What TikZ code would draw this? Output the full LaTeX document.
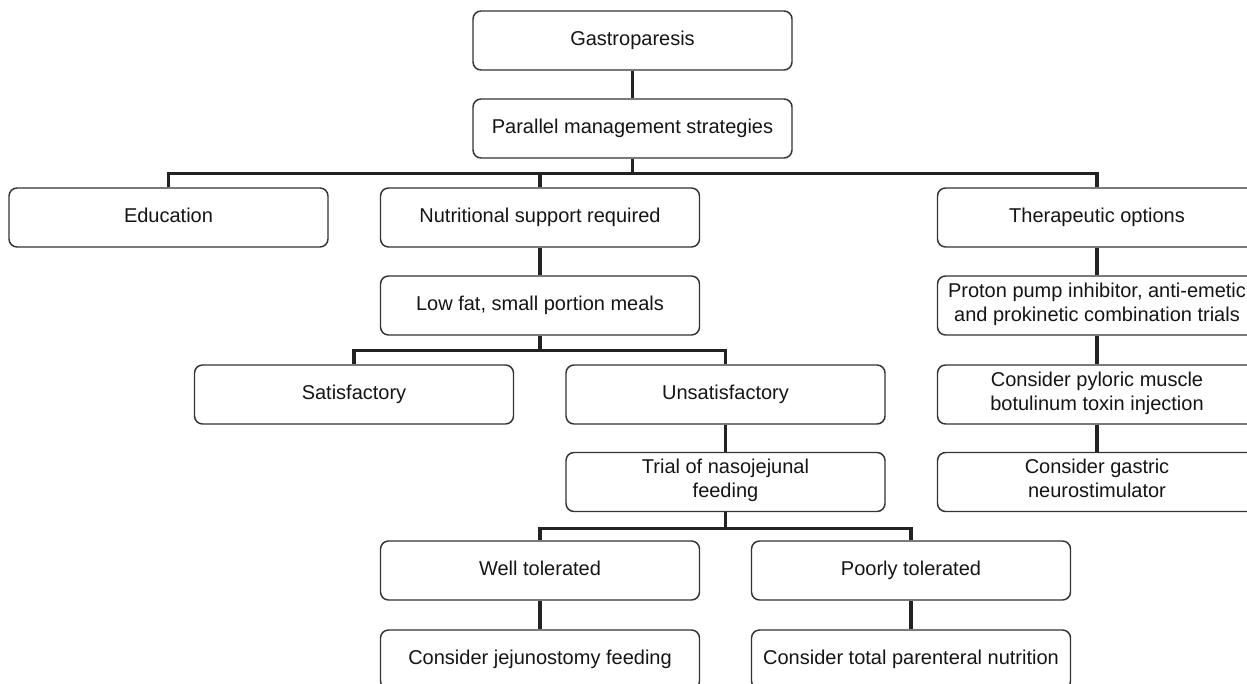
\documentclass[tikz,border=0pt]{standalone}
\usepackage{fontspec}
\setmainfont{Liberation Sans}
\usetikzlibrary{calc}
\definecolor{boxline}{HTML}{333333}
\definecolor{connline}{HTML}{222222}
\definecolor{txt}{HTML}{151515}
\tikzset{
  box/.style={draw=boxline, line width=1.1pt, rounded corners=6pt, fill=white,
    minimum width=239.25pt, minimum height=44.25pt, inner sep=0pt,
    align=center, text=txt, font=\fontsize{15}{18}\selectfont,
    execute at begin node={\strut}, execute at end node={\strut}},
  conn/.style={draw=connline, line width=2.3pt}
}
\begin{document}
\begin{tikzpicture}[x=0.75pt,y=-0.75pt]
\useasboundingbox (0,0) rectangle (1247,684);
\clip (0,0) rectangle (1247,684);
\fill[white] (0,0) rectangle (1247,684);
\node[box] (g) at (632.5,40.5) {Gastroparesis};
\node[box] (p) at (632.5,128.5) {Parallel management strategies};
\node[box] (edu) at (168.5,217.5) {Education};
\node[box] (nut) at (540,217.5) {Nutritional support required};
\node[box] (ther) at (1097,217.5) {Therapeutic options};
\node[box] (low) at (540,305.5) {Low fat, small portion meals};
\node[box] (ppi) at (1097,305.5) {Proton pump inhibitor, anti-emetic\\and prokinetic combination trials};
\node[box] (sat) at (354,394.5) {Satisfactory};
\node[box] (uns) at (725.5,394.5) {Unsatisfactory};
\node[box] (pyl) at (1097,394.5) {Consider pyloric muscle\\botulinum toxin injection};
\node[box] (trial) at (725.5,482) {Trial of nasojejunal\\feeding};
\node[box] (gas) at (1097,482) {Consider gastric\\neurostimulator};
\node[box] (well) at (540,570.5) {Well tolerated};
\node[box] (poor) at (911,570.5) {Poorly tolerated};
\node[box] (jej) at (540,659.5) {Consider jejunostomy feeding};
\node[box] (tpn) at (911,659.5) {Consider total parenteral nutrition};
% simple vertical links
\draw[conn] (g.south) -- (p.north);
\draw[conn] (nut.south) -- (low.north);
\draw[conn] (uns.south) -- (trial.north);
\draw[conn] (ther.south) -- (ppi.north);
\draw[conn] (ppi.south) -- (pyl.north);
\draw[conn] (pyl.south) -- (gas.north);
\draw[conn] (well.south) -- (jej.north);
\draw[conn] (poor.south) -- (tpn.north);
% bus 1
\draw[conn] (p.south) -- ++(0,15) coordinate (b1);
\draw[conn] (edu.north) |- (b1) -| (ther.north);
\draw[conn] (nut.north) -- (nut.north |- b1);
% bus 2
\draw[conn] (low.south) -- ++(0,15) coordinate (b2);
\draw[conn] (sat.north) |- (b2) -| (uns.north);
% bus 3
\draw[conn] (trial.south) -- ++(0,16) coordinate (b3);
\draw[conn] (well.north) |- (b3) -| (poor.north);
\end{tikzpicture}
\end{document}
